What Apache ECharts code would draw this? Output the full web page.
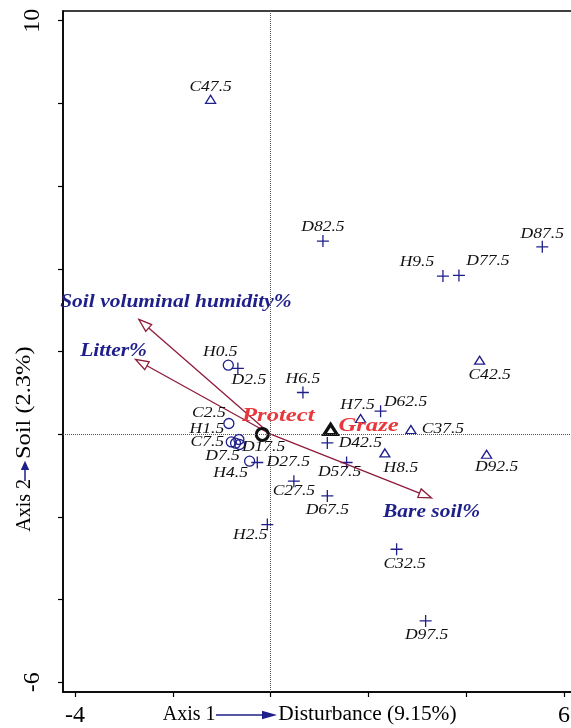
<!DOCTYPE html>
<html><head><meta charset="utf-8">
<script src="https://cdn.jsdelivr.net/npm/echarts@6/dist/echarts.min.js"></script>
<style>html,body{margin:0;padding:0;background:#fff}#c{width:571px;height:728px}</style>
</head><body><div id="c"></div><script>
// ---- data ----
const plusNames = ['D82.5','D87.5','H9.5','D77.5','H6.5','D62.5','D42.5','D57.5','C27.5','D67.5','C32.5','D97.5','D2.5','D27.5','H2.5'];
const plusX = [1.070,5.556,3.524,3.851,0.661,2.249,1.160,1.554,0.476,1.160,2.577,3.170,-0.669,-0.272,-0.067];
const plusY = [4.670,4.532,3.823,3.840,1.009,0.556,-0.211,-0.685,-1.137,-1.493,-2.782,-4.517,1.590,-0.685,-2.185];
const triNames = ['C47.5','C42.5','H7.5','C37.5','H8.5','D92.5'];
const triX = [-1.227,4.274,1.840,2.869,2.337,4.417];
const triY = [8.098,1.790,0.380,0.114,-0.452,-0.484];
const circNames = ['H0.5','C2.5','H1.5','C7.5','D7.5','D17.5','H4.5'];
const circX = [-0.865,-0.853,-0.648,-0.804,-0.716,-0.634,-0.429];
const circY = [1.669,0.259,-0.128,-0.186,-0.218,-0.249,-0.653];
const groupNames = ['Protect','Graze'];
const groupX = [-0.170,1.227];
const groupY = [-0.007,0.114];
const vecNames = ['Soil voluminal humidity%','Litter%','Bare soil%'];
const vecX = [-2.693,-2.761,3.292];
const vecY = [2.775,1.807,-1.541];
const xTicks = [-4,-2,0,2,4,6];
const yTicks = [-6,-4,-2,0,2,4,6,8,10];
const xTickLabels = [-4,6];
const yTickLabels = [-6,10];
const xTitleA = 'Axis 1', xTitleB = 'Disturbance (9.15%)';
const yTitleA = 'Axis 2', yTitleB = 'Soil (2.3%)';

// ---- layout (pixel offsets of labels from their marks) ----
const labelOffset = {
  'D82.5':[0,-14],'D87.5':[0,-13],'H9.5':[-26,-14],'D77.5':[29,-14],'H6.5':[0,-13],'D62.5':[25,-9],
  'D42.5':[33,0],'D57.5':[-7,10],'C27.5':[0,10],'D67.5':[0,14],'C32.5':[8,15],'D97.5':[1,14],
  'D2.5':[11,12],'D27.5':[31,0],'H2.5':[-17,11],
  'C47.5':[0,-12],'C42.5':[10,15],'H7.5':[-3,-13],'C37.5':[32,0],'H8.5':[16,15],'D92.5':[10,13],
  'H0.5':[-8,-13],'C2.5':[-20,-10],'H1.5':[-32,-10],'C7.5':[-24,0],'D7.5':[-13,13],'D17.5':[24,3],'H4.5':[-19,12],
  'Protect':[16,-18],'Graze':[38,-3],
  'Soil voluminal humidity%':[37,-17],'Litter%':[-22,-8],'Bare soil%':[0,14]
};
const NAVY = '#1f1f8a', DARKRED = '#8e1b3a', RED = '#e8383d', SERIF = 'Liberation Serif';

function pts(xs, ys){ return xs.map((x,i)=>[x, ys[i]]); }

function labelSeries(names, xs, ys, font, color, sx){
  return {
    type:'custom', silent:true, z:6, animation:false,
    data: pts(xs, ys),
    renderItem: function(params, api){
      const p = api.coord([api.value(0), api.value(1)]);
      const name = names[params.dataIndex];
      const off = labelOffset[name] || [0,-12];
      return {type:'text', x:p[0]+off[0], y:p[1]+off[1], scaleX:sx,
        style:{text:name, fill:color, font:font, textAlign:'center', textVerticalAlign:'middle'}};
    }
  };
}

const arrowSeries = {
  type:'custom', silent:true, z:4, animation:false,
  data: pts(vecX, vecY),
  renderItem: function(params, api){
    const o = api.coord([0,0]);
    const t = api.coord([api.value(0), api.value(1)]);
    const dx = t[0]-o[0], dy = t[1]-o[1], L = Math.hypot(dx,dy);
    const ux = dx/L, uy = dy/L, hl = 13, hw = 4.5;
    const b = [t[0]-ux*hl, t[1]-uy*hl];
    const p1 = [b[0]-uy*hw, b[1]+ux*hw], p2 = [b[0]+uy*hw, b[1]-ux*hw];
    const name = vecNames[params.dataIndex];
    const off = labelOffset[name];
    return {type:'group', children:[
      {type:'line', shape:{x1:o[0],y1:o[1],x2:b[0],y2:b[1]}, style:{stroke:DARKRED, lineWidth:1.3}},
      {type:'polygon', shape:{points:[t,p1,p2]}, style:{fill:'#fff', stroke:DARKRED, lineWidth:1.3}},
      {type:'text', x:t[0]+off[0], y:t[1]+off[1], scaleX:1.13,
        style:{text:name, fill:NAVY, font:'italic bold 19px '+SERIF, textAlign:'center', textVerticalAlign:'middle'}}
    ]};
  }
};

const PLUS = 'path://M0,6L12,6M6,0L6,12';
const chart = echarts.init(document.getElementById('c'), null, {renderer:'canvas'});
chart.setOption({
  animation:false,
  backgroundColor:'#fff',
  grid:{left:63, top:11, width:513, height:681, outerBoundsMode:'none', containLabel:false,
    show:true, borderColor:'#000', borderWidth:1.5, backgroundColor:'transparent'},
  xAxis:{type:'value', min:-4.245, max:6.245,
    axisLine:{show:true, onZero:false, lineStyle:{color:'#000', width:1.5}},
    axisTick:{show:true, length:5, customValues:xTicks, lineStyle:{color:'#000', width:1.2}},
    axisLabel:{show:true, customValues:xTickLabels, margin:12, fontSize:24, fontFamily:SERIF, color:'#000'},
    splitLine:{show:false}},
  yAxis:{type:'value', min:-6.235, max:10.235,
    axisLine:{show:true, onZero:false, lineStyle:{color:'#000', width:1.5}},
    axisTick:{show:true, length:5, customValues:yTicks, lineStyle:{color:'#000', width:1.2}},
    axisLabel:{show:true, customValues:yTickLabels, rotate:90, margin:18, fontSize:24, fontFamily:SERIF, color:'#000'},
    splitLine:{show:false}},
  graphic:[
    {type:'text', x:162.7, y:715, style:{text:xTitleA, font:'20px '+SERIF, fill:'#000', textAlign:'left', textVerticalAlign:'middle'}},
    {type:'line', shape:{x1:216, y1:715, x2:263, y2:715}, style:{stroke:NAVY, lineWidth:1.5}},
    {type:'polygon', shape:{points:[[262,710.8],[277,715],[262,719.2]]}, style:{fill:NAVY}},
    {type:'text', x:278.3, y:715, scaleX:1.07, style:{text:xTitleB, font:'20px '+SERIF, fill:'#000', textAlign:'left', textVerticalAlign:'middle'}},
    {type:'text', x:25, y:531.7, rotation:Math.PI/2, style:{text:yTitleA, font:'20px '+SERIF, fill:'#000', textAlign:'left', textVerticalAlign:'middle'}},
    {type:'line', shape:{x1:25, y1:481, x2:25, y2:469}, style:{stroke:NAVY, lineWidth:1.5}},
    {type:'polygon', shape:{points:[[20.8,470],[25,460.7],[29.2,470]]}, style:{fill:NAVY}},
    {type:'text', x:25, y:459, rotation:Math.PI/2, scaleX:1.22, style:{text:yTitleB, font:'20px '+SERIF, fill:'#000', textAlign:'left', textVerticalAlign:'middle'}}
  ],
  series:[
    {type:'scatter', silent:true, z:1, data:[], symbolSize:0,
      markLine:{silent:true, symbol:'none', label:{show:false}, animation:false,
        lineStyle:{type:'dotted', color:'#555', width:1},
        data:[{xAxis:0},{yAxis:0}]}},
    arrowSeries,
    {type:'scatter', silent:true, z:3, symbol:PLUS, symbolSize:12, data:pts(plusX, plusY),
      itemStyle:{color:'transparent', borderColor:NAVY, borderWidth:1.3, opacity:1}},
    {type:'scatter', silent:true, z:3, symbol:'triangle', symbolSize:[10,8], data:pts(triX, triY),
      itemStyle:{color:'transparent', borderColor:NAVY, borderWidth:1.3, opacity:1}},
    {type:'scatter', silent:true, z:3, symbol:'circle', symbolSize:10, data:pts(circX, circY),
      itemStyle:{color:'transparent', borderColor:NAVY, borderWidth:1.3, opacity:1}},
    {type:'scatter', silent:true, z:4, symbol:'circle', symbolSize:12, data:[[groupX[0], groupY[0]]],
      itemStyle:{color:'transparent', borderColor:'#111', borderWidth:3.2, opacity:1}},
    {type:'scatter', silent:true, z:4, symbol:'triangle', symbolSize:[13,10], data:[[groupX[1], groupY[1]]],
      itemStyle:{color:'transparent', borderColor:'#111', borderWidth:3.2, opacity:1}},
    labelSeries(plusNames, plusX, plusY, 'italic 15px '+SERIF, '#111', 1.17),
    labelSeries(triNames, triX, triY, 'italic 15px '+SERIF, '#111', 1.17),
    labelSeries(circNames, circX, circY, 'italic 15px '+SERIF, '#111', 1.17),
    labelSeries(groupNames, groupX, groupY, 'italic bold 19px '+SERIF, RED, 1.3)
  ]
});
</script></body></html>
